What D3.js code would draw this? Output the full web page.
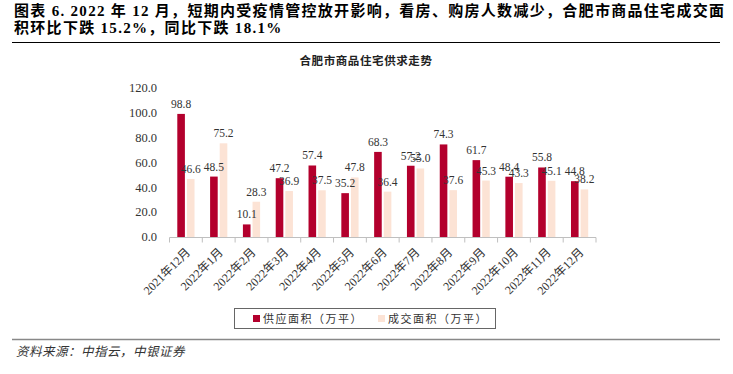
<!DOCTYPE html>
<html><head><meta charset="utf-8">
<script src="https://cdn.jsdelivr.net/npm/d3@7"></script>
<style>
body{margin:0;background:#fff;}
svg{display:block;}
</style></head>
<body>
<svg id="c" width="733" height="374"></svg>
<script>
const categories = ["2021年12月","2022年1月","2022年2月","2022年3月","2022年4月","2022年5月","2022年6月","2022年7月","2022年8月","2022年9月","2022年10月","2022年11月","2022年12月"];
const supply = [98.8,48.5,10.1,47.2,57.4,35.2,68.3,57.2,74.3,61.7,48.4,55.8,44.8];
const deal = [46.6,75.2,28.3,36.9,37.5,47.8,36.4,55.0,37.6,45.3,43.3,45.1,38.2];
const yTicks = [0,20,40,60,80,100,120];
const seriesNames = ["供应面积（万平）","成交面积（万平）"];
const titleLines = ["图表 6. 2022 年 12 月，短期内受疫情管控放开影响，看房、购房人数减少，合肥市商品住宅成交面","积环比下跌 15.2%，同比下跌 18.1%"];
const chartTitle = "合肥市商品住宅供求走势";
const sourceText = "资料来源：中指云，中银证券";

const colors = ["#b3002d","#fce3d5"];
const serif = "'Liberation Serif','Times New Roman','Noto Sans CJK SC',serif";
const cjk = "'Noto Sans CJK SC','Liberation Serif',sans-serif";

const svg = d3.select("#c");

// Title
svg.append("text").attr("x",14).attr("y",16).attr("font-family",serif).attr("font-weight","bold")
  .attr("font-size",15).attr("letter-spacing",1.3).attr("fill","#000").text(titleLines[0]);
svg.append("text").attr("x",14).attr("y",33).attr("font-family",serif).attr("font-weight","bold")
  .attr("font-size",15).attr("letter-spacing",1.3).attr("fill","#000").text(titleLines[1]);
svg.append("line").attr("x1",12).attr("x2",720).attr("y1",42.5).attr("y2",42.5).attr("stroke","#000").attr("stroke-width",1.2);

// chart title
svg.append("text").attr("x",366).attr("y",65).attr("text-anchor","middle").attr("font-family",cjk)
  .attr("font-weight","bold").attr("font-size",11.5).attr("letter-spacing",0.6).attr("fill","#222").text(chartTitle);

const x = d3.scaleBand().domain(categories).range([169.5,596]);
const x1 = d3.scaleBand().domain([0,1]).range([0,x.bandwidth()]).paddingInner(0.21).paddingOuter(0.81);
const y = d3.scaleLinear().domain([0,120]).range([237,87.5]);

// y labels
svg.append("g").selectAll("text").data(yTicks).join("text")
  .attr("x",157).attr("y",d=>y(d)).attr("dy","0.35em").attr("text-anchor","end")
  .attr("font-family",serif).attr("font-size",12.5).attr("fill","#333").text(d=>d3.format(".1f")(d));

// bars
const series = [supply, deal];
series.forEach((vals,si)=>{
  const g = svg.append("g");
  g.selectAll("rect").data(vals).join("rect")
    .attr("x",(d,i)=>x(categories[i])+x1(si)).attr("width",x1.bandwidth())
    .attr("y",d=>y(d)).attr("height",d=>y(0)-y(d)).attr("fill",colors[si]);
});
// labels
series.forEach((vals,si)=>{
  svg.append("g").selectAll("text").data(vals).join("text")
    .attr("x",(d,i)=>x(categories[i])+x1(si)+x1.bandwidth()/2).attr("y",d=>y(d)-6)
    .attr("text-anchor","middle").attr("font-family",serif).attr("font-size",11.5).attr("fill","#333")
    .text(d=>d3.format(".1f")(d));
});

// x axis
const xa = svg.append("g").attr("transform",`translate(0,${y(0)})`);
xa.append("line").attr("x1",169.5).attr("x2",596).attr("y1",0.5).attr("y2",0.5).attr("stroke","#bfbfbf").attr("stroke-width",1);
const bounds = categories.map(c=>x(c)).concat([x.range()[1]]);
xa.selectAll("line.t").data(bounds).join("line").attr("class","t")
  .attr("x1",d=>d).attr("x2",d=>d).attr("y1",0.5).attr("y2",5.5).attr("stroke","#bfbfbf");
xa.selectAll("text").data(categories).join("text")
  .attr("transform",c=>`translate(${x(c)+x.bandwidth()/2+2},${13}) rotate(-45)`)
  .attr("text-anchor","end").attr("dy","0.35em").attr("font-family",serif).attr("font-size",12).attr("fill","#333").text(c=>c);

// legend
const lg = svg.append("g");
lg.append("rect").attr("x",234.5).attr("y",308.5).attr("width",261).attr("height",20).attr("fill","none").attr("stroke","#666").attr("stroke-width",1);
const lx = [253,378];
seriesNames.forEach((n,i)=>{
  lg.append("rect").attr("x",lx[i]).attr("y",315).attr("width",7).attr("height",7).attr("fill",colors[i]);
  lg.append("text").attr("x",lx[i]+10).attr("y",322.5).attr("font-family",cjk).attr("font-size",11).attr("letter-spacing",1.5)
    .attr("fill","#333").text(n);
});

// source
svg.append("line").attr("x1",12).attr("x2",720).attr("y1",339.5).attr("y2",339.5).attr("stroke","#888").attr("stroke-width",1.5);
svg.append("text").attr("x",16).attr("y",356).attr("font-family",cjk).attr("font-style","italic").attr("font-size",12.5).attr("letter-spacing",0.5)
  .attr("fill","#333").text(sourceText);
</script>
</body></html>
